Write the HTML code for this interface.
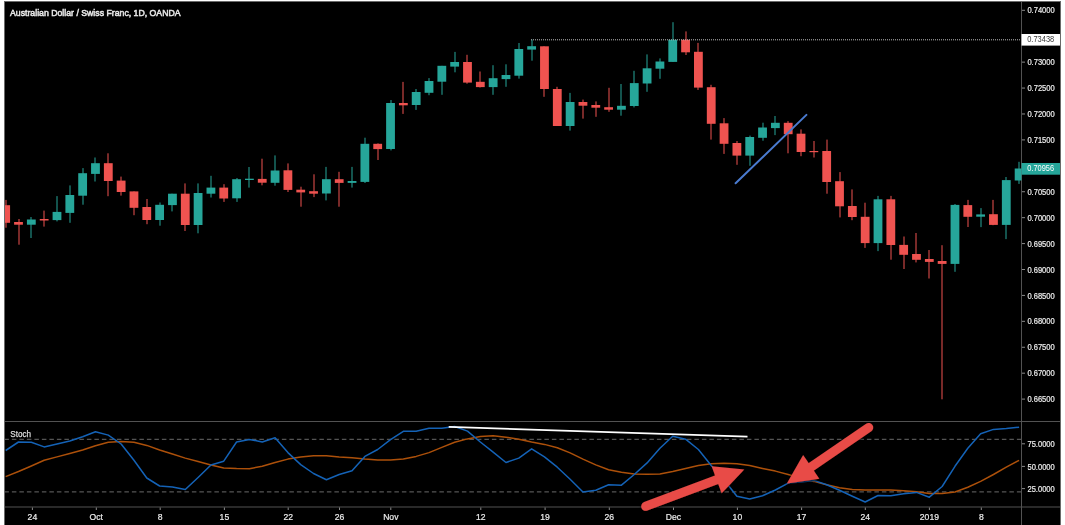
<!DOCTYPE html><html><head><meta charset="utf-8"><title>AUDCHF 1D</title><style>
html,body{margin:0;padding:0;background:#fff;width:1065px;height:525px;overflow:hidden}
svg{display:block}
text{font-family:"Liberation Sans",Arial,sans-serif}
</style></head><body>
<svg width="1065" height="525" viewBox="0 0 1065 525">
<rect x="4" y="1" width="1057" height="524" fill="#6a6a6a"/>
<rect x="5" y="2" width="1055" height="523" fill="#000"/>
<clipPath id="main"><rect x="5" y="2" width="1016.5" height="419"/></clipPath>
<clipPath id="sto"><rect x="5" y="422" width="1016.5" height="84.5"/></clipPath>
<g stroke="#525252" stroke-width="1" fill="none">
<line x1="1021.5" y1="2" x2="1021.5" y2="525"/>
<line x1="5" y1="421.5" x2="1060" y2="421.5"/>
<line x1="5" y1="507" x2="1060" y2="507"/>
</g>
<g stroke="#8a8a8a" stroke-width="1">
<line x1="1022" y1="399.10" x2="1025" y2="399.10"/>
<line x1="1022" y1="373.18" x2="1025" y2="373.18"/>
<line x1="1022" y1="347.26" x2="1025" y2="347.26"/>
<line x1="1022" y1="321.34" x2="1025" y2="321.34"/>
<line x1="1022" y1="295.42" x2="1025" y2="295.42"/>
<line x1="1022" y1="269.50" x2="1025" y2="269.50"/>
<line x1="1022" y1="243.58" x2="1025" y2="243.58"/>
<line x1="1022" y1="217.66" x2="1025" y2="217.66"/>
<line x1="1022" y1="191.74" x2="1025" y2="191.74"/>
<line x1="1022" y1="165.82" x2="1025" y2="165.82"/>
<line x1="1022" y1="139.90" x2="1025" y2="139.90"/>
<line x1="1022" y1="113.98" x2="1025" y2="113.98"/>
<line x1="1022" y1="88.06" x2="1025" y2="88.06"/>
<line x1="1022" y1="62.14" x2="1025" y2="62.14"/>
<line x1="1022" y1="36.22" x2="1025" y2="36.22"/>
<line x1="1022" y1="10.30" x2="1025" y2="10.30"/>
</g>
<g fill="#ececec" stroke="#ececec" stroke-width="0.2" font-size="8.3">
<text x="1027.4" y="402.20" textLength="27.3" lengthAdjust="spacingAndGlyphs">0.66500</text>
<text x="1027.4" y="376.28" textLength="27.3" lengthAdjust="spacingAndGlyphs">0.67000</text>
<text x="1027.4" y="350.36" textLength="27.3" lengthAdjust="spacingAndGlyphs">0.67500</text>
<text x="1027.4" y="324.44" textLength="27.3" lengthAdjust="spacingAndGlyphs">0.68000</text>
<text x="1027.4" y="298.52" textLength="27.3" lengthAdjust="spacingAndGlyphs">0.68500</text>
<text x="1027.4" y="272.60" textLength="27.3" lengthAdjust="spacingAndGlyphs">0.69000</text>
<text x="1027.4" y="246.68" textLength="27.3" lengthAdjust="spacingAndGlyphs">0.69500</text>
<text x="1027.4" y="220.76" textLength="27.3" lengthAdjust="spacingAndGlyphs">0.70000</text>
<text x="1027.4" y="194.84" textLength="27.3" lengthAdjust="spacingAndGlyphs">0.70500</text>
<text x="1027.4" y="143.00" textLength="27.3" lengthAdjust="spacingAndGlyphs">0.71500</text>
<text x="1027.4" y="117.08" textLength="27.3" lengthAdjust="spacingAndGlyphs">0.72000</text>
<text x="1027.4" y="91.16" textLength="27.3" lengthAdjust="spacingAndGlyphs">0.72500</text>
<text x="1027.4" y="65.24" textLength="27.3" lengthAdjust="spacingAndGlyphs">0.73000</text>
<text x="1027.4" y="13.40" textLength="27.3" lengthAdjust="spacingAndGlyphs">0.74000</text>
</g>
<g clip-path="url(#main)">
<rect x="5.50" y="199.90" width="1" height="27.80" fill="#ef5350"/>
<rect x="1.27" y="205.20" width="8.80" height="17.60" fill="#ef5350"/>
<rect x="18.50" y="219.00" width="1" height="25.70" fill="#ef5350"/>
<rect x="14.10" y="222.00" width="8.80" height="2.70" fill="#ef5350"/>
<rect x="30.50" y="217.00" width="1" height="21.00" fill="#26a69a"/>
<rect x="26.93" y="219.50" width="8.80" height="5.20" fill="#26a69a"/>
<rect x="43.50" y="210.60" width="1" height="16.00" fill="#ef5350"/>
<rect x="39.76" y="219.00" width="8.80" height="1.50" fill="#ef5350"/>
<rect x="56.50" y="196.10" width="1" height="25.30" fill="#26a69a"/>
<rect x="52.59" y="211.90" width="8.80" height="8.20" fill="#26a69a"/>
<rect x="69.50" y="185.40" width="1" height="37.40" fill="#26a69a"/>
<rect x="65.41" y="195.00" width="8.80" height="17.90" fill="#26a69a"/>
<rect x="82.50" y="168.10" width="1" height="36.60" fill="#26a69a"/>
<rect x="78.24" y="173.20" width="8.80" height="22.50" fill="#26a69a"/>
<rect x="94.50" y="157.50" width="1" height="24.00" fill="#26a69a"/>
<rect x="91.07" y="163.20" width="8.80" height="10.70" fill="#26a69a"/>
<rect x="107.50" y="153.30" width="1" height="42.90" fill="#ef5350"/>
<rect x="103.90" y="163.20" width="8.80" height="17.80" fill="#ef5350"/>
<rect x="120.50" y="176.60" width="1" height="19.00" fill="#ef5350"/>
<rect x="116.73" y="180.60" width="8.80" height="11.40" fill="#ef5350"/>
<rect x="133.50" y="191.40" width="1" height="23.80" fill="#ef5350"/>
<rect x="129.56" y="191.40" width="8.80" height="16.40" fill="#ef5350"/>
<rect x="146.50" y="199.00" width="1" height="25.20" fill="#ef5350"/>
<rect x="142.38" y="207.00" width="8.80" height="13.00" fill="#ef5350"/>
<rect x="159.50" y="202.50" width="1" height="23.20" fill="#26a69a"/>
<rect x="155.21" y="204.80" width="8.80" height="15.20" fill="#26a69a"/>
<rect x="171.50" y="193.70" width="1" height="17.70" fill="#26a69a"/>
<rect x="168.04" y="193.70" width="8.80" height="11.40" fill="#26a69a"/>
<rect x="184.50" y="183.40" width="1" height="47.60" fill="#ef5350"/>
<rect x="180.87" y="193.70" width="8.80" height="31.30" fill="#ef5350"/>
<rect x="197.50" y="183.40" width="1" height="49.90" fill="#26a69a"/>
<rect x="193.70" y="193.00" width="8.80" height="32.00" fill="#26a69a"/>
<rect x="210.50" y="175.80" width="1" height="21.70" fill="#26a69a"/>
<rect x="206.53" y="187.60" width="8.80" height="6.10" fill="#26a69a"/>
<rect x="223.50" y="184.20" width="1" height="17.70" fill="#ef5350"/>
<rect x="219.35" y="187.60" width="8.80" height="10.90" fill="#ef5350"/>
<rect x="236.50" y="178.00" width="1" height="23.90" fill="#26a69a"/>
<rect x="232.18" y="179.20" width="8.80" height="19.10" fill="#26a69a"/>
<rect x="248.50" y="167.00" width="1" height="20.60" fill="#26a69a"/>
<rect x="245.01" y="178.70" width="8.80" height="1.30" fill="#26a69a"/>
<rect x="261.50" y="158.70" width="1" height="26.60" fill="#ef5350"/>
<rect x="257.84" y="178.90" width="8.80" height="3.80" fill="#ef5350"/>
<rect x="274.50" y="155.40" width="1" height="30.30" fill="#26a69a"/>
<rect x="270.67" y="170.50" width="8.80" height="12.30" fill="#26a69a"/>
<rect x="287.50" y="163.40" width="1" height="28.60" fill="#ef5350"/>
<rect x="283.50" y="170.30" width="8.80" height="19.60" fill="#ef5350"/>
<rect x="300.50" y="186.70" width="1" height="20.00" fill="#ef5350"/>
<rect x="296.32" y="189.70" width="8.80" height="2.70" fill="#ef5350"/>
<rect x="313.50" y="174.30" width="1" height="22.80" fill="#ef5350"/>
<rect x="309.15" y="191.20" width="8.80" height="2.50" fill="#ef5350"/>
<rect x="325.50" y="166.90" width="1" height="33.50" fill="#26a69a"/>
<rect x="321.98" y="179.20" width="8.80" height="14.30" fill="#26a69a"/>
<rect x="338.50" y="171.80" width="1" height="34.90" fill="#ef5350"/>
<rect x="334.81" y="179.20" width="8.80" height="3.70" fill="#ef5350"/>
<rect x="351.50" y="166.90" width="1" height="20.70" fill="#26a69a"/>
<rect x="347.64" y="181.00" width="8.80" height="1.90" fill="#26a69a"/>
<rect x="364.50" y="137.70" width="1" height="45.30" fill="#26a69a"/>
<rect x="360.47" y="143.80" width="8.80" height="38.10" fill="#26a69a"/>
<rect x="377.50" y="143.40" width="1" height="16.60" fill="#ef5350"/>
<rect x="373.29" y="143.80" width="8.80" height="5.30" fill="#ef5350"/>
<rect x="390.50" y="100.00" width="1" height="50.40" fill="#26a69a"/>
<rect x="386.12" y="103.00" width="8.80" height="46.00" fill="#26a69a"/>
<rect x="402.50" y="81.90" width="1" height="32.00" fill="#ef5350"/>
<rect x="398.95" y="103.00" width="8.80" height="2.30" fill="#ef5350"/>
<rect x="415.50" y="89.00" width="1" height="20.90" fill="#26a69a"/>
<rect x="411.78" y="92.00" width="8.80" height="13.00" fill="#26a69a"/>
<rect x="428.50" y="78.10" width="1" height="17.10" fill="#26a69a"/>
<rect x="424.61" y="81.00" width="8.80" height="11.80" fill="#26a69a"/>
<rect x="441.50" y="65.80" width="1" height="29.00" fill="#26a69a"/>
<rect x="437.43" y="65.80" width="8.80" height="15.90" fill="#26a69a"/>
<rect x="454.50" y="51.90" width="1" height="20.40" fill="#26a69a"/>
<rect x="450.26" y="62.00" width="8.80" height="4.60" fill="#26a69a"/>
<rect x="466.50" y="54.80" width="1" height="28.90" fill="#ef5350"/>
<rect x="463.09" y="62.00" width="8.80" height="20.60" fill="#ef5350"/>
<rect x="479.50" y="71.50" width="1" height="16.00" fill="#ef5350"/>
<rect x="475.92" y="81.80" width="8.80" height="5.30" fill="#ef5350"/>
<rect x="492.50" y="65.20" width="1" height="29.60" fill="#26a69a"/>
<rect x="488.75" y="78.20" width="8.80" height="8.90" fill="#26a69a"/>
<rect x="505.50" y="64.30" width="1" height="22.50" fill="#26a69a"/>
<rect x="501.58" y="75.00" width="8.80" height="4.10" fill="#26a69a"/>
<rect x="518.50" y="43.00" width="1" height="35.60" fill="#26a69a"/>
<rect x="514.40" y="49.00" width="8.80" height="26.70" fill="#26a69a"/>
<rect x="531.50" y="39.60" width="1" height="21.10" fill="#26a69a"/>
<rect x="527.23" y="46.20" width="8.80" height="3.40" fill="#26a69a"/>
<rect x="543.50" y="46.30" width="1" height="50.50" fill="#ef5350"/>
<rect x="540.06" y="46.30" width="8.80" height="42.70" fill="#ef5350"/>
<rect x="556.50" y="86.80" width="1" height="39.20" fill="#ef5350"/>
<rect x="552.89" y="89.00" width="8.80" height="37.00" fill="#ef5350"/>
<rect x="569.50" y="92.90" width="1" height="37.70" fill="#26a69a"/>
<rect x="565.72" y="102.00" width="8.80" height="24.00" fill="#26a69a"/>
<rect x="582.50" y="99.60" width="1" height="19.00" fill="#ef5350"/>
<rect x="578.55" y="102.00" width="8.80" height="3.70" fill="#ef5350"/>
<rect x="595.50" y="101.40" width="1" height="15.40" fill="#ef5350"/>
<rect x="591.37" y="105.00" width="8.80" height="2.70" fill="#ef5350"/>
<rect x="608.50" y="87.80" width="1" height="24.00" fill="#ef5350"/>
<rect x="604.20" y="107.20" width="8.80" height="2.50" fill="#ef5350"/>
<rect x="620.50" y="84.00" width="1" height="31.70" fill="#26a69a"/>
<rect x="617.03" y="105.80" width="8.80" height="3.90" fill="#26a69a"/>
<rect x="633.50" y="70.80" width="1" height="36.60" fill="#26a69a"/>
<rect x="629.86" y="83.10" width="8.80" height="22.90" fill="#26a69a"/>
<rect x="646.50" y="54.40" width="1" height="37.40" fill="#26a69a"/>
<rect x="642.69" y="68.30" width="8.80" height="15.20" fill="#26a69a"/>
<rect x="659.50" y="58.40" width="1" height="20.40" fill="#26a69a"/>
<rect x="655.52" y="61.50" width="8.80" height="7.20" fill="#26a69a"/>
<rect x="672.50" y="22.20" width="1" height="39.70" fill="#26a69a"/>
<rect x="668.34" y="39.80" width="8.80" height="22.10" fill="#26a69a"/>
<rect x="685.50" y="31.40" width="1" height="23.60" fill="#ef5350"/>
<rect x="681.17" y="39.80" width="8.80" height="12.50" fill="#ef5350"/>
<rect x="697.50" y="42.90" width="1" height="47.00" fill="#ef5350"/>
<rect x="694.00" y="51.80" width="8.80" height="35.80" fill="#ef5350"/>
<rect x="710.50" y="84.80" width="1" height="54.80" fill="#ef5350"/>
<rect x="706.83" y="87.20" width="8.80" height="36.60" fill="#ef5350"/>
<rect x="723.50" y="118.10" width="1" height="35.80" fill="#ef5350"/>
<rect x="719.66" y="123.30" width="8.80" height="20.50" fill="#ef5350"/>
<rect x="736.50" y="141.00" width="1" height="23.80" fill="#ef5350"/>
<rect x="732.49" y="143.00" width="8.80" height="12.60" fill="#ef5350"/>
<rect x="749.50" y="135.60" width="1" height="30.20" fill="#26a69a"/>
<rect x="745.31" y="137.00" width="8.80" height="18.60" fill="#26a69a"/>
<rect x="762.50" y="122.70" width="1" height="18.00" fill="#26a69a"/>
<rect x="758.14" y="127.50" width="8.80" height="10.30" fill="#26a69a"/>
<rect x="774.50" y="116.00" width="1" height="19.10" fill="#26a69a"/>
<rect x="770.97" y="122.80" width="8.80" height="5.30" fill="#26a69a"/>
<rect x="787.50" y="121.10" width="1" height="32.20" fill="#ef5350"/>
<rect x="783.80" y="122.80" width="8.80" height="11.40" fill="#ef5350"/>
<rect x="800.50" y="129.40" width="1" height="26.80" fill="#ef5350"/>
<rect x="796.63" y="133.70" width="8.80" height="18.30" fill="#ef5350"/>
<rect x="813.50" y="141.00" width="1" height="16.50" fill="#ef5350"/>
<rect x="809.46" y="151.00" width="8.80" height="1.20" fill="#ef5350"/>
<rect x="826.50" y="139.60" width="1" height="54.10" fill="#ef5350"/>
<rect x="822.28" y="151.00" width="8.80" height="31.00" fill="#ef5350"/>
<rect x="839.50" y="172.10" width="1" height="45.30" fill="#ef5350"/>
<rect x="835.11" y="181.20" width="8.80" height="25.10" fill="#ef5350"/>
<rect x="851.50" y="189.40" width="1" height="30.80" fill="#ef5350"/>
<rect x="847.94" y="206.00" width="8.80" height="11.00" fill="#ef5350"/>
<rect x="864.50" y="202.70" width="1" height="45.20" fill="#ef5350"/>
<rect x="860.77" y="216.80" width="8.80" height="26.30" fill="#ef5350"/>
<rect x="877.50" y="195.90" width="1" height="55.20" fill="#26a69a"/>
<rect x="873.60" y="199.30" width="8.80" height="43.80" fill="#26a69a"/>
<rect x="890.50" y="195.90" width="1" height="63.80" fill="#ef5350"/>
<rect x="886.43" y="199.30" width="8.80" height="45.70" fill="#ef5350"/>
<rect x="903.50" y="236.50" width="1" height="32.50" fill="#ef5350"/>
<rect x="899.25" y="244.90" width="8.80" height="9.90" fill="#ef5350"/>
<rect x="915.50" y="233.00" width="1" height="29.40" fill="#ef5350"/>
<rect x="912.08" y="254.00" width="8.80" height="5.80" fill="#ef5350"/>
<rect x="928.50" y="250.00" width="1" height="28.50" fill="#ef5350"/>
<rect x="924.91" y="259.00" width="8.80" height="2.90" fill="#ef5350"/>
<rect x="941.50" y="245.20" width="1" height="154.10" fill="#ef5350"/>
<rect x="937.74" y="261.00" width="8.80" height="2.90" fill="#ef5350"/>
<rect x="954.50" y="204.00" width="1" height="67.80" fill="#26a69a"/>
<rect x="950.57" y="204.90" width="8.80" height="59.00" fill="#26a69a"/>
<rect x="967.50" y="199.90" width="1" height="27.10" fill="#ef5350"/>
<rect x="963.40" y="205.10" width="8.80" height="11.70" fill="#ef5350"/>
<rect x="980.50" y="208.10" width="1" height="19.00" fill="#26a69a"/>
<rect x="976.22" y="214.40" width="8.80" height="2.30" fill="#26a69a"/>
<rect x="992.50" y="199.90" width="1" height="25.30" fill="#ef5350"/>
<rect x="989.05" y="214.20" width="8.80" height="10.70" fill="#ef5350"/>
<rect x="1005.50" y="177.00" width="1" height="62.10" fill="#26a69a"/>
<rect x="1001.88" y="180.10" width="8.80" height="44.80" fill="#26a69a"/>
<rect x="1018.50" y="161.80" width="1" height="22.10" fill="#26a69a"/>
<rect x="1014.71" y="168.50" width="8.80" height="12.00" fill="#26a69a"/>
</g>
<line x1="531" y1="39.8" x2="1021" y2="39.8" stroke="#bdbdbd" stroke-width="1" stroke-dasharray="1 1"/>
<line x1="735.6" y1="183.3" x2="806.4" y2="114.9" stroke="#4a7bd0" stroke-width="2" stroke-linecap="round"/>
<rect x="1021.5" y="34" width="38.5" height="11.6" fill="#ffffff"/>
<text x="1027.2" y="42.4" font-size="8.3" fill="#3a3a3a" textLength="27" lengthAdjust="spacingAndGlyphs">0.73438</text>
<rect x="1021.5" y="163" width="38.5" height="11.7" fill="#26a69a"/>
<text x="1027.3" y="171.4" font-size="8.3" fill="#ffffff" textLength="26.8" lengthAdjust="spacingAndGlyphs">0.70956</text>
<text x="10" y="15.9" font-size="9.6" fill="#ececec" textLength="170.6" lengthAdjust="spacingAndGlyphs" stroke="#e6e6e6" stroke-width="0.55">Australian Dollar / Swiss Franc, 1D, OANDA</text>
<g clip-path="url(#sto)">
<line x1="5" y1="439.3" x2="1021" y2="439.3" stroke="#6a6a6a" stroke-width="1" stroke-dasharray="4.5 3" stroke-dashoffset="0.6"/>
<line x1="5" y1="491.9" x2="1021" y2="491.9" stroke="#6a6a6a" stroke-width="1" stroke-dasharray="4.5 3" stroke-dashoffset="0.6"/>
<polyline points="5.67,476.60 18.50,471.50 31.33,466.00 44.16,460.30 56.99,456.90 69.81,453.60 82.64,450.00 95.47,445.70 108.30,442.30 121.13,441.40 133.96,442.30 146.78,445.40 159.61,450.00 172.44,454.00 185.27,458.10 198.10,461.50 210.93,465.00 223.75,468.00 236.58,468.50 249.41,468.70 262.24,466.30 275.07,462.50 287.90,459.10 300.72,456.90 313.55,455.70 326.38,455.70 339.21,456.90 352.04,457.70 364.87,459.10 377.69,460.00 390.52,460.00 403.35,459.10 416.18,456.40 429.01,452.60 441.83,447.40 454.66,442.30 467.49,438.90 480.32,436.60 493.15,435.80 505.98,437.20 518.80,439.20 531.63,442.00 544.46,444.40 557.29,447.80 570.12,452.90 582.95,459.10 595.77,464.90 608.60,469.70 621.43,472.30 634.26,474.00 647.09,474.20 659.92,473.90 672.74,471.50 685.57,468.50 698.40,465.50 711.23,463.70 724.06,463.20 736.89,463.70 749.71,465.50 762.54,468.40 775.37,471.10 788.20,474.50 801.03,478.30 813.86,481.40 826.68,484.80 839.51,487.80 852.34,489.50 865.17,490.00 878.00,490.00 890.83,490.00 903.65,490.70 916.48,491.70 929.31,493.40 942.14,493.40 954.97,492.00 967.80,487.20 980.62,481.40 993.45,474.50 1006.28,467.20 1019.11,460.30" fill="none" stroke="#ac500a" stroke-width="1.5" stroke-linejoin="round"/>
<polyline points="5.67,450.50 18.50,442.00 31.33,442.30 44.16,446.90 56.99,444.00 69.81,441.00 82.64,436.80 95.47,431.70 108.30,435.10 121.13,444.00 133.96,460.30 146.78,478.00 159.61,486.00 172.44,486.90 185.27,489.50 198.10,477.50 210.93,465.00 223.75,461.20 236.58,442.00 249.41,439.40 262.24,442.00 275.07,437.70 287.90,452.60 300.72,464.60 313.55,473.50 326.38,479.70 339.21,474.50 352.04,470.80 364.87,456.40 377.69,449.50 390.52,439.70 403.35,431.30 416.18,431.30 429.01,428.20 441.83,428.20 454.66,426.50 467.49,431.10 480.32,442.00 493.15,452.20 505.98,462.50 518.80,458.10 531.63,448.80 544.46,456.90 557.29,467.20 570.12,479.20 582.95,492.00 595.77,490.30 608.60,484.80 621.43,485.20 634.26,474.50 647.09,462.90 659.92,448.30 672.74,436.30 685.57,439.20 698.40,449.50 711.23,465.50 724.06,480.00 736.89,496.30 749.71,498.90 762.54,495.80 775.37,490.00 788.20,483.10 801.03,482.00 813.86,480.40 826.68,484.80 839.51,490.30 852.34,496.30 865.17,502.00 878.00,495.50 890.83,495.80 903.65,493.80 916.48,492.40 929.31,497.20 942.14,486.50 954.97,466.30 967.80,448.30 980.62,433.70 993.45,429.40 1006.28,428.60 1019.11,427.20" fill="none" stroke="#1462b6" stroke-width="1.5" stroke-linejoin="round"/>
<line x1="448.7" y1="426.9" x2="747.5" y2="436.6" stroke="#ffffff" stroke-width="1.8"/>
</g>
<text x="10.3" y="436.7" font-size="9.4" fill="#dedede" stroke="#dedede" stroke-width="0.25" textLength="20.8" lengthAdjust="spacingAndGlyphs">Stoch</text>
<line x1="1022" y1="443.8" x2="1025" y2="443.8" stroke="#8a8a8a" stroke-width="1"/>
<text x="1027.5" y="446.9" font-size="8.3" fill="#ececec" stroke="#ececec" stroke-width="0.2" textLength="27.2" lengthAdjust="spacingAndGlyphs">75.0000</text>
<line x1="1022" y1="466.4" x2="1025" y2="466.4" stroke="#8a8a8a" stroke-width="1"/>
<text x="1027.5" y="469.5" font-size="8.3" fill="#ececec" stroke="#ececec" stroke-width="0.2" textLength="27.2" lengthAdjust="spacingAndGlyphs">50.0000</text>
<line x1="1022" y1="488.6" x2="1025" y2="488.6" stroke="#8a8a8a" stroke-width="1"/>
<text x="1027.5" y="491.7" font-size="8.3" fill="#ececec" stroke="#ececec" stroke-width="0.2" textLength="27.2" lengthAdjust="spacingAndGlyphs">25.0000</text>
<g stroke="#8a8a8a" stroke-width="1">
<line x1="32.4" y1="507.5" x2="32.4" y2="510" />
<line x1="96.3" y1="507.5" x2="96.3" y2="510" />
<line x1="160.2" y1="507.5" x2="160.2" y2="510" />
<line x1="224.4" y1="507.5" x2="224.4" y2="510" />
<line x1="288.2" y1="507.5" x2="288.2" y2="510" />
<line x1="339.5" y1="507.5" x2="339.5" y2="510" />
<line x1="390.8" y1="507.5" x2="390.8" y2="510" />
<line x1="480.8" y1="507.5" x2="480.8" y2="510" />
<line x1="545.1" y1="507.5" x2="545.1" y2="510" />
<line x1="609.3" y1="507.5" x2="609.3" y2="510" />
<line x1="673.5" y1="507.5" x2="673.5" y2="510" />
<line x1="737.4" y1="507.5" x2="737.4" y2="510" />
<line x1="801.6" y1="507.5" x2="801.6" y2="510" />
<line x1="865.3" y1="507.5" x2="865.3" y2="510" />
<line x1="929.4" y1="507.5" x2="929.4" y2="510" />
<line x1="981.3" y1="507.5" x2="981.3" y2="510" />
</g>
<g fill="#ececec" stroke="#ececec" stroke-width="0.2" font-size="8.6" text-anchor="middle">
<text x="32.4" y="519.8">24</text>
<text x="96.3" y="519.8">Oct</text>
<text x="160.2" y="519.8">8</text>
<text x="224.4" y="519.8">15</text>
<text x="288.2" y="519.8">22</text>
<text x="339.5" y="519.8">26</text>
<text x="390.8" y="519.8">Nov</text>
<text x="480.8" y="519.8">12</text>
<text x="545.1" y="519.8">19</text>
<text x="609.3" y="519.8">26</text>
<text x="673.5" y="519.8">Dec</text>
<text x="737.4" y="519.8">10</text>
<text x="801.6" y="519.8">17</text>
<text x="865.3" y="519.8">24</text>
<text x="929.4" y="519.8">2019</text>
<text x="981.3" y="519.8">8</text>
</g>
<filter id="sh" x="-20%" y="-20%" width="140%" height="140%"><feDropShadow dx="0" dy="1" stdDeviation="1.5" flood-color="#000" flood-opacity="0.9"/></filter>
<g filter="url(#sh)">
<line x1="645.70" y1="506.30" x2="718.54" y2="479.04" stroke="#e84c47" stroke-width="9.0" stroke-linecap="round"/><polygon points="744.30,469.40 721.68,493.13 711.66,466.35" fill="#e84c47"/>
<line x1="868.70" y1="427.50" x2="809.58" y2="468.05" stroke="#e84c47" stroke-width="9.0" stroke-linecap="round"/><polygon points="786.90,483.60 803.14,455.12 819.32,478.71" fill="#e84c47"/>
</g>
</svg></body></html>
